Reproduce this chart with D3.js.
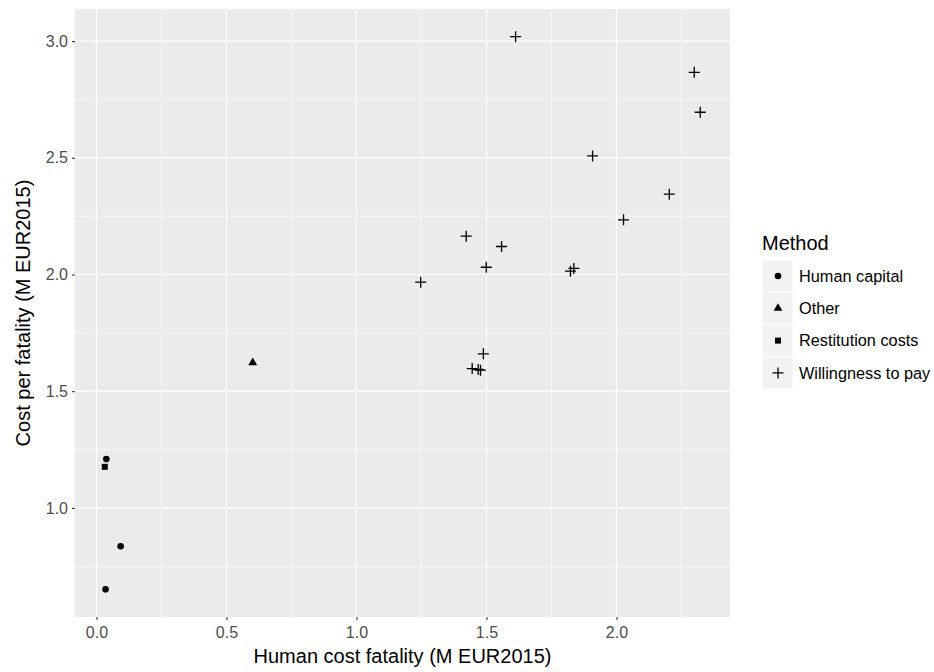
<!DOCTYPE html>
<html>
<head>
<meta charset="utf-8">
<script src="https://cdn.jsdelivr.net/npm/d3@7"></script>
<style>
  body { margin: 0; background: #fff; }
  text { font-family: "Liberation Sans", Arial, sans-serif; }
</style>
</head>
<body>
<div id="chart"></div>
<script>
const methods = ["Human capital", "Other", "Restitution costs", "Willingness to pay"];

const humanCost = [0.038, 0.093, 0.035, 0.601, 0.032,
  1.612, 2.299, 2.322, 1.908, 2.203, 2.027, 1.422, 1.558, 1.499, 1.823, 1.836, 1.247,
  1.488, 1.445, 1.468, 1.477];
const costPerFatality = [1.209, 0.836, 0.651, 1.622, 1.176,
  3.019, 2.866, 2.695, 2.508, 2.344, 2.234, 2.164, 2.120, 2.031, 2.014, 2.026, 1.967,
  1.660, 1.597, 1.593, 1.590];
const method = ["Human capital", "Human capital", "Human capital", "Other", "Restitution costs",
  "Willingness to pay", "Willingness to pay", "Willingness to pay", "Willingness to pay",
  "Willingness to pay", "Willingness to pay", "Willingness to pay", "Willingness to pay",
  "Willingness to pay", "Willingness to pay", "Willingness to pay", "Willingness to pay",
  "Willingness to pay", "Willingness to pay", "Willingness to pay", "Willingness to pay"];

const xTicks = [0, 0.5, 1, 1.5, 2];
const xMinor = [0.25, 0.75, 1.25, 1.75, 2.25];
const yTicks = [1, 1.5, 2, 2.5, 3];
const yMinor = [0.75, 1.25, 1.75, 2.25, 2.75];

const width = 934, height = 672;
const panel = { left: 75, right: 730, top: 9, bottom: 617 };

const data = humanCost.map((d, i) => ({ x: d, y: costPerFatality[i], m: method[i] }));

const svg = d3.select("#chart").append("svg")
  .attr("width", width)
  .attr("height", height);

// ggplot-style 5% expansion
const xr = d3.extent(humanCost), yr = d3.extent(costPerFatality);
const xPad = (xr[1] - xr[0]) * 0.05, yPad = (yr[1] - yr[0]) * 0.05;

const x = d3.scaleLinear()
  .domain([xr[0] - xPad, xr[1] + xPad])
  .range([panel.left, panel.right]);
const y = d3.scaleLinear()
  .domain([yr[0] - yPad, yr[1] + yPad])
  .range([panel.bottom, panel.top]);

svg.append("rect")
  .attr("x", panel.left).attr("y", panel.top)
  .attr("width", panel.right - panel.left)
  .attr("height", panel.bottom - panel.top)
  .attr("fill", "#ebebeb");

const grid = svg.append("g");
grid.selectAll(".xminor").data(xMinor).join("line")
  .attr("x1", d => x(d)).attr("x2", d => x(d))
  .attr("y1", panel.top).attr("y2", panel.bottom)
  .attr("stroke", "#fff").attr("stroke-width", 0.6);
grid.selectAll(".yminor").data(yMinor).join("line")
  .attr("y1", d => y(d)).attr("y2", d => y(d))
  .attr("x1", panel.left).attr("x2", panel.right)
  .attr("stroke", "#fff").attr("stroke-width", 0.6);
grid.selectAll(".xmajor").data(xTicks).join("line")
  .attr("x1", d => x(d)).attr("x2", d => x(d))
  .attr("y1", panel.top).attr("y2", panel.bottom)
  .attr("stroke", "#fff").attr("stroke-width", 1.2);
grid.selectAll(".ymajor").data(yTicks).join("line")
  .attr("y1", d => y(d)).attr("y2", d => y(d))
  .attr("x1", panel.left).attr("x2", panel.right)
  .attr("stroke", "#fff").attr("stroke-width", 1.2);

// axes
const xAxis = svg.append("g")
  .attr("transform", `translate(0,${panel.bottom})`)
  .call(d3.axisBottom(x).tickValues(xTicks).tickFormat(d3.format(".1f")).tickSize(3).tickPadding(7));
const yAxis = svg.append("g")
  .attr("transform", `translate(${panel.left},0)`)
  .call(d3.axisLeft(y).tickValues(yTicks).tickFormat(d3.format(".1f")).tickSize(3).tickPadding(4));
[xAxis, yAxis].forEach(a => {
  a.select(".domain").remove();
  a.selectAll(".tick line").attr("stroke", "#333").attr("stroke-width", 1.1);
  a.selectAll(".tick text").attr("fill", "#4d4d4d").attr("font-size", 16)
    .attr("font-family", "Liberation Sans, Arial, sans-serif");
});

svg.append("text")
  .attr("x", (panel.left + panel.right) / 2).attr("y", 663)
  .attr("text-anchor", "middle").attr("font-size", 20).attr("fill", "#000")
  .text("Human cost fatality (M EUR2015)");
svg.append("text")
  .attr("transform", `translate(30,${(panel.top + panel.bottom) / 2}) rotate(-90)`)
  .attr("text-anchor", "middle").attr("font-size", 20).attr("fill", "#000")
  .text("Cost per fatality (M EUR2015)");

// shapes
const plusPath = "M-5.5,0H5.5M0,-5.5V5.5";
function drawShape(sel, m) {
  if (m === "Willingness to pay") {
    sel.append("path").attr("d", plusPath).attr("stroke", "#000").attr("stroke-width", 1.3).attr("fill", "none");
  } else {
    const type = m === "Human capital" ? d3.symbolCircle
      : m === "Other" ? d3.symbolTriangle : d3.symbolSquare;
    const size = m === "Human capital" ? 34 : m === "Other" ? 34 : 36;
    sel.append("path").attr("d", d3.symbol().type(type).size(size)()).attr("fill", "#000");
  }
}

svg.append("g").selectAll("g").data(data).join("g")
  .attr("transform", d => `translate(${x(d.x)},${y(d.y)})`)
  .each(function(d) { drawShape(d3.select(this), d.m); });

// legend
const legend = svg.append("g").attr("transform", "translate(762,0)");
legend.append("text").attr("x", 0).attr("y", 250)
  .attr("font-size", 20).attr("fill", "#000").text("Method");
const rows = legend.selectAll(".row").data(methods).join("g")
  .attr("transform", (d, i) => `translate(0,${260 + i * 32.3})`);
rows.append("rect")
  .attr("width", 31).attr("height", 32.3)
  .attr("fill", "#f2f2f2").attr("stroke", "#fff").attr("stroke-width", 1);
rows.append("g").attr("transform", "translate(16,16)")
  .each(function(d) { drawShape(d3.select(this), d); });
rows.append("text").attr("x", 37).attr("y", 16).attr("dy", "0.35em")
  .attr("font-size", 16.3).attr("fill", "#000").text(d => d);
</script>
</body>
</html>
